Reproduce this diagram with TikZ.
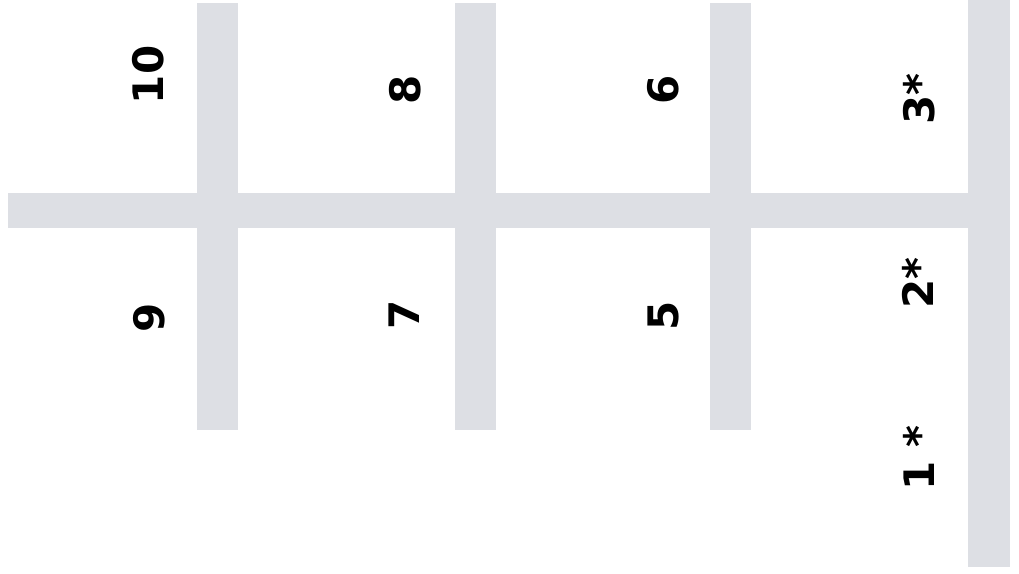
\documentclass[tikz,border=0pt]{standalone}
\usepackage{fontspec}
\setsansfont{DejaVu Sans}

\begin{document}
\begin{tikzpicture}[x=1pt, y=1pt, font=\sffamily\bfseries\fontsize{42}{48}\selectfont]

    \definecolor{barGray}{RGB}{221,223,228}   % the light bars

  \useasboundingbox (0,0) rectangle (1019,573);

  % three short upright bars
  \foreach \x in {197,455,710}
  \fill[barGray] (\x,143) rectangle ++(41,427);

  % long bar on the right and the bar across
  \fill[barGray] (968,6) rectangle (1010,573);
  \fill[barGray] (8,345) rectangle (1010,380);

  % numbers, read from below
  \foreach \name/\x/\y/\txt in {n10/148/498/10, n9/149/255/9,
                                n8/405/483/8, n7/404/258/7,
                                n6/663/483/6, n5/663/257/5,
                                n3/919/474/3*, n2/918/290/2*, n1/919/115/1 *}
  \node[rotate=90] (\name) at (\x,\y) {\txt};

\end{tikzpicture}
\end{document}
